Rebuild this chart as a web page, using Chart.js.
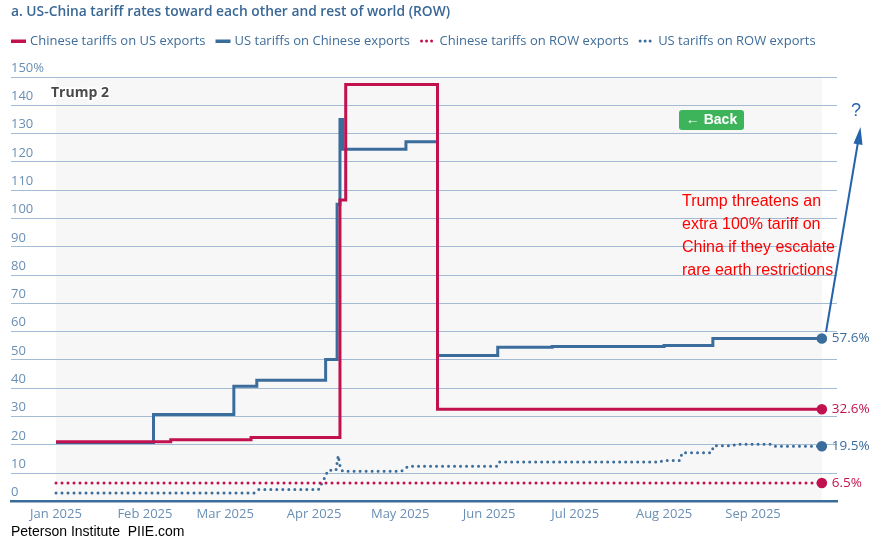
<!DOCTYPE html>
<html>
<head>
<meta charset="utf-8">
<script src="https://cdn.jsdelivr.net/npm/chart.js@4.4.1/dist/chart.umd.min.js"></script>
<style>
html, body { margin: 0; padding: 0; background: #fff; }
#wrap { width: 874px; height: 537px; position: relative; }
</style>
</head>
<body>
<div id="wrap"><canvas id="tariffChart"></canvas></div>
<script>
// x values are days counted from 1 Jan 2025
var monthDays = [0, 31, 59, 90, 120, 151, 181, 212, 243];
var monthLabels = ["Jan 2025", "Feb 2025", "Mar 2025", "Apr 2025", "May 2025", "Jun 2025", "Jul 2025", "Aug 2025", "Sep 2025"];
var yTicks = [0, 10, 20, 30, 40, 50, 60, 70, 80, 90, 100, 110, 120, 130, 140, 150];
var lastDay = 267;

var seriesNames = ["Chinese tariffs on US exports", "US tariffs on Chinese exports", "Chinese tariffs on ROW exports", "US tariffs on ROW exports"];
var seriesColors = ["#c1124f", "#3b6d9c", "#c1124f", "#3b6d9c"];

// [day, rate] where the rate changes
var chinaOnUS = [[0, 21.1], [40, 21.8], [68, 22.6], [99, 106.5], [101, 147.4], [133, 32.6], [267, 32.6]];
var usOnChina = [[0, 20.8], [34, 30.7], [62, 40.7], [70, 42.8], [94, 50.2], [98, 105], [99, 135], [100, 124.5],
                 [122, 127.1], [133, 51.6], [154, 54.5], [173, 54.8], [212, 55.1], [229, 57.6], [267, 57.6]];
var chinaOnRow = [[0, 6.5], [267, 6.5]];
var usOnRow = [[0, 3.0], [69, 3.0], [70.5, 4.2], [91.5, 4.2], [93.8, 8.6], [94.8, 11.0], [97.6, 11.0], [98.4, 16.2],
               [99.2, 11.5], [100, 10.7], [120.5, 10.7], [122.8, 12.4], [154, 12.4], [154.6, 13.9], [210.5, 13.9],
               [211.5, 14.5], [217.5, 14.5], [218.3, 17.2], [228.5, 17.2], [229.3, 19.7], [236, 19.7], [237, 20.2],
               [249, 20.2], [250, 19.5], [267, 19.5]];

var noteLines = ["Trump threatens an", "extra 100% tariff on", "China if they escalate", "rare earth restrictions"];

function toPoints(arr) {
    return arr.map(function (p) { return {x: p[0], y: p[1]}; });
}
function endPoint(ctx) {
    return ctx.dataIndex === ctx.dataset.data.length - 1 ? 3.8 : 0;
}

var uiFont = "'Open Sans', sans-serif";

var shade = {
    id: 'shade',
    beforeDraw: function (chart) {
        var c = chart.ctx, x = chart.scales.x, y = chart.scales.y;
        c.save();
        c.fillStyle = '#f7f7f7';
        c.fillRect(x.getPixelForValue(0), y.getPixelForValue(150), x.getPixelForValue(lastDay) - x.getPixelForValue(0), y.getPixelForValue(0) - y.getPixelForValue(150));
        c.restore();
    }
};

var extras = {
    id: 'extras',
    afterDraw: function (chart) {
        var c = chart.ctx;
        c.save();

        // legend
        var lx = 11, ly = 41;
        c.font = "13px " + uiFont;
        c.textBaseline = 'middle';
        c.textAlign = 'left';
        seriesNames.forEach(function (name, i) {
            c.fillStyle = seriesColors[i];
            if (i < 2) {
                c.fillRect(lx, ly - 1.5, 15, 3.5);
            } else {
                for (var k = 0; k < 3; k++) {
                    c.beginPath();
                    c.arc(lx + 1.5 + k * 5, ly, 1.5, 0, Math.PI * 2);
                    c.fill();
                }
            }
            lx += i < 2 ? 19 : 19.5;
            c.fillStyle = '#3f6d99';
            c.fillText(name, lx, ly);
            lx += c.measureText(name).width + 10;
        });

        // end values
        c.font = "13.5px " + uiFont;
        chart.data.datasets.forEach(function (ds, i) {
            var meta = chart.getDatasetMeta(i);
            var pt = meta.data[meta.data.length - 1];
            c.fillStyle = seriesColors[i];
            c.fillText(ds.data[ds.data.length - 1].y.toFixed(1) + '%', pt.x + 10, pt.y);
        });

        // Trump 2
        c.font = "bold 14px " + uiFont;
        c.lineWidth = 3;
        c.strokeStyle = '#ffffff';
        c.strokeText('Trump 2', 51, 93);
        c.fillStyle = '#4a4a4a';
        c.fillText('Trump 2', 51, 93);

        // back button
        c.fillStyle = '#3db35a';
        c.beginPath();
        c.roundRect(679, 110, 65, 20, 3);
        c.fill();
        c.fillStyle = '#ffffff';
        c.font = "bold 14px 'Liberation Sans', Arial, sans-serif";
        c.textAlign = 'center';
        c.fillText('\u2190 Back', 711.5, 120.5);

        // note
        c.textAlign = 'left';
        c.fillStyle = '#ff0000';
        c.font = "16px 'Liberation Sans', Arial, sans-serif";
        noteLines.forEach(function (t, i) {
            c.fillText(t, 682, 202 + i * 22.8);
        });

        // arrow and question mark
        c.strokeStyle = '#2563ad';
        c.fillStyle = '#2563ad';
        c.lineWidth = 2;
        c.beginPath();
        c.moveTo(826, 332);
        c.lineTo(858, 142);
        c.stroke();
        c.beginPath();
        c.moveTo(860.5, 127);
        c.lineTo(862.5, 145);
        c.lineTo(853.5, 143.5);
        c.closePath();
        c.fill();
        c.font = "18px 'Liberation Sans', Arial, sans-serif";
        c.textAlign = 'center';
        c.fillText('?', 856, 111);

        c.restore();
    }
};

var ctx = document.getElementById('tariffChart');
var tariffChart = new Chart(ctx, {
    type: 'line',
    data: {
        datasets: [{
            label: seriesNames[0],
            data: toPoints(chinaOnUS),
            borderColor: seriesColors[0],
            backgroundColor: seriesColors[0],
            borderWidth: 3,
            stepped: true,
            pointRadius: endPoint
        }, {
            label: seriesNames[1],
            data: toPoints(usOnChina),
            borderColor: seriesColors[1],
            backgroundColor: seriesColors[1],
            borderWidth: 3,
            stepped: true,
            pointRadius: endPoint
        }, {
            label: seriesNames[2],
            data: toPoints(chinaOnRow),
            borderColor: seriesColors[2],
            backgroundColor: seriesColors[2],
            borderWidth: 3,
            borderDash: [0, 6],
            borderCapStyle: 'round',
            pointRadius: endPoint
        }, {
            label: seriesNames[3],
            data: toPoints(usOnRow),
            borderColor: seriesColors[3],
            backgroundColor: seriesColors[3],
            borderWidth: 3,
            borderDash: [0, 6],
            borderCapStyle: 'round',
            pointRadius: endPoint
        }]
    },
    options: {
        responsive: true,
        maintainAspectRatio: false,
        animation: false,
        layout: { padding: { left: 11, right: 37, top: 0, bottom: 1 } },
        elements: { point: { borderWidth: 0, hoverRadius: 0 } },
        plugins: {
            legend: { display: false },
            tooltip: { enabled: false },
            title: {
                display: true,
                text: "a. US-China tariff rates toward each other and rest of world (ROW)",
                align: 'start',
                color: '#3a6896',
                font: { family: uiFont, size: 13.8, weight: '600', lineHeight: 1.2 },
                padding: { top: 3.5, bottom: 57 }
            },
            subtitle: {
                display: true,
                position: 'bottom',
                align: 'start',
                text: "Peterson Institute  PIIE.com",
                color: '#000000',
                font: { family: "'Liberation Sans', Arial, sans-serif", size: 14, lineHeight: 0.57 },
                padding: { top: 1, bottom: 0 }
            }
        },
        scales: {
            x: {
                type: 'linear',
                min: -15.69,
                max: 272.28,
                grid: { display: false, drawTicks: false },
                border: { color: '#3b6d9c', width: 2.5 },
                afterBuildTicks: function (s) {
                    s.ticks = monthDays.map(function (v) { return {value: v}; });
                },
                ticks: {
                    autoSkip: false,
                    maxRotation: 0,
                    padding: 5,
                    color: '#6a8fb4',
                    font: { family: uiFont, size: 13 },
                    callback: function (v, i) { return monthLabels[i]; }
                }
            },
            y: {
                min: 0,
                max: 150,
                afterBuildTicks: function (s) {
                    s.ticks = yTicks.map(function (v) { return {value: v}; });
                },
                grid: { color: '#a4bcd3', drawTicks: false },
                border: { display: false },
                ticks: {
                    mirror: true,
                    padding: 0,
                    labelOffset: -9,
                    color: '#6a8fb4',
                    font: { family: uiFont, size: 13 },
                    callback: function (v) { return v === 150 ? '150%' : v; }
                }
            }
        }
    },
    plugins: [shade, extras]
});
</script>
</body>
</html>
